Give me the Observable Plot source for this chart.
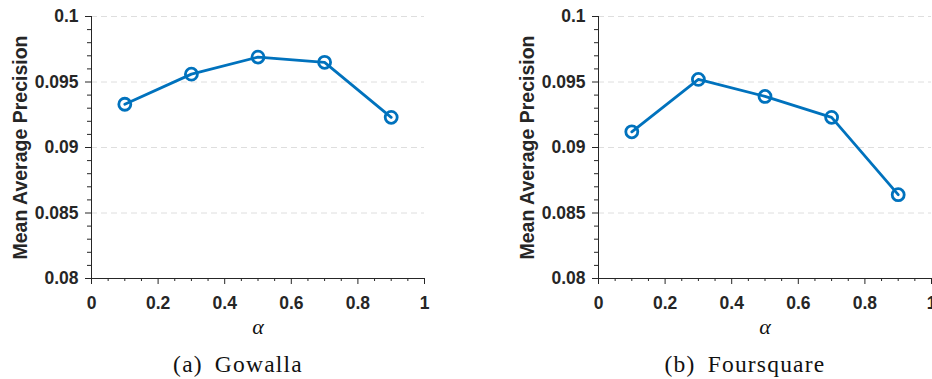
<!DOCTYPE html>
<html>
<head>
<meta charset="utf-8">
<script src="https://cdn.jsdelivr.net/npm/d3@7"></script>
<script src="https://cdn.jsdelivr.net/npm/@observablehq/plot@0.6"></script>
<style>
  body { margin: 0; background: #fff; }
  #wrap { position: relative; width: 932px; height: 379px; overflow: hidden; background: #fff; }
  .panel { position: absolute; top: 0; }
  .panel svg { overflow: visible; }
  .cap { position: absolute; top: 351px; transform: translateX(-50%); white-space: nowrap;
         font-family: "Liberation Serif", "Times New Roman", serif; font-size: 23.5px; line-height: 26px;
         letter-spacing: 1.2px; word-spacing: 5px; color: #111; }
</style>
</head>
<body>
<div id="wrap"></div>
<script>
const alphaValues = [0.1, 0.3, 0.5, 0.7, 0.9];
const gowallaMAP = [0.0933, 0.0956, 0.0969, 0.0965, 0.0923];
const foursquareMAP = [0.0912, 0.0952, 0.0939, 0.0923, 0.0864];
const yTicks = [0.08, 0.085, 0.09, 0.095, 0.1];
const yTickLabels = ["0.08", "0.085", "0.09", "0.095", "0.1"];
const xTicks = [0, 0.2, 0.4, 0.6, 0.8, 1];
const xTickLabels = ["0", "0.2", "0.4", "0.6", "0.8", "1"];
const yMinor = [0.081,0.082,0.083,0.084,0.086,0.087,0.088,0.089,0.091,0.092,0.093,0.094,0.096,0.097,0.098,0.099];
const xMinor = [0.05,0.1,0.15,0.25,0.3,0.35,0.45,0.5,0.55,0.65,0.7,0.75,0.85,0.9,0.95];
const yLabel = "Mean Average Precision";
const xLabel = "α";
const captions = ["(a) Gowalla", "(b) Foursquare"];

const ink = "#262626";
const blue = "#0072BD";
const tickFont = {fontSize: 17.5, fontWeight: "bold", fontFamily: "'Liberation Sans', Arial, sans-serif"};

function panel(values, marginLeft, marginRight) {
  const data = alphaValues.map((a, i) => ({a, v: values[i]}));
  return Plot.plot({
    width: 466, height: 340,
    marginLeft, marginRight, marginTop: 16, marginBottom: 62,
    style: {fontFamily: "'Liberation Sans', Arial, sans-serif", fontWeight: "bold", fontSize: "17.5px", color: ink, background: "transparent", overflow: "visible"},
    x: {domain: [0, 1], label: null},
    y: {domain: [0.08, 0.1], label: null},
    marks: [
      Plot.gridY(yTicks.slice(1), {stroke: "#dedede", strokeOpacity: 1, strokeDasharray: "6,4"}),
      Plot.axisY(yMinor, {tickSize: 4, tickFormat: () => "", stroke: ink, strokeOpacity: 1, label: null}),
      Plot.axisY(yTicks, {...tickFont, tickSize: 6, tickPadding: 7, stroke: ink, strokeOpacity: 1, fill: ink, label: null,
        tickFormat: d => yTickLabels[yTicks.indexOf(d)]}),
      Plot.axisX(xMinor, {tickSize: 3, tickFormat: () => "", stroke: ink, strokeOpacity: 1, label: null}),
      Plot.axisX(xTicks, {...tickFont, tickSize: 6, tickPadding: 12, stroke: ink, strokeOpacity: 1, fill: ink, label: null,
        tickFormat: d => xTickLabels[xTicks.indexOf(d)]}),
      Plot.ruleX([0], {stroke: ink}),
      Plot.ruleY([0.08], {stroke: ink}),
      Plot.line(data, {x: "a", y: "v", stroke: blue, strokeWidth: 2.8}),
      Plot.dot(data, {x: "a", y: "v", r: 6, stroke: blue, strokeWidth: 2.8, fill: "none"}),
      Plot.text([yLabel], {frameAnchor: "left", rotate: -90, dx: -71, fontSize: 19.5, fontWeight: "bold", fill: ink, textAnchor: "middle", lineAnchor: "middle"}),
      Plot.text([xLabel], {frameAnchor: "bottom", dy: 48, fontFamily: "'Liberation Serif', serif", fontStyle: "italic", fontSize: 22, fontWeight: "normal", fill: "#111", lineAnchor: "middle"})
    ]
  });
}

const wrap = document.getElementById("wrap");
const specs = [
  {values: gowallaMAP, left: 0, ml: 91, mr: 42, capX: 238},
  {values: foursquareMAP, left: 466, ml: 132, mr: 1, capX: 745}
];
specs.forEach((s, i) => {
  const d = document.createElement("div");
  d.className = "panel";
  d.style.left = s.left + "px";
  d.appendChild(panel(s.values, s.ml, s.mr));
  wrap.appendChild(d);
  const c = document.createElement("div");
  c.className = "cap";
  c.style.left = s.capX + "px";
  c.textContent = captions[i];
  wrap.appendChild(c);
});
</script>
</body>
</html>
